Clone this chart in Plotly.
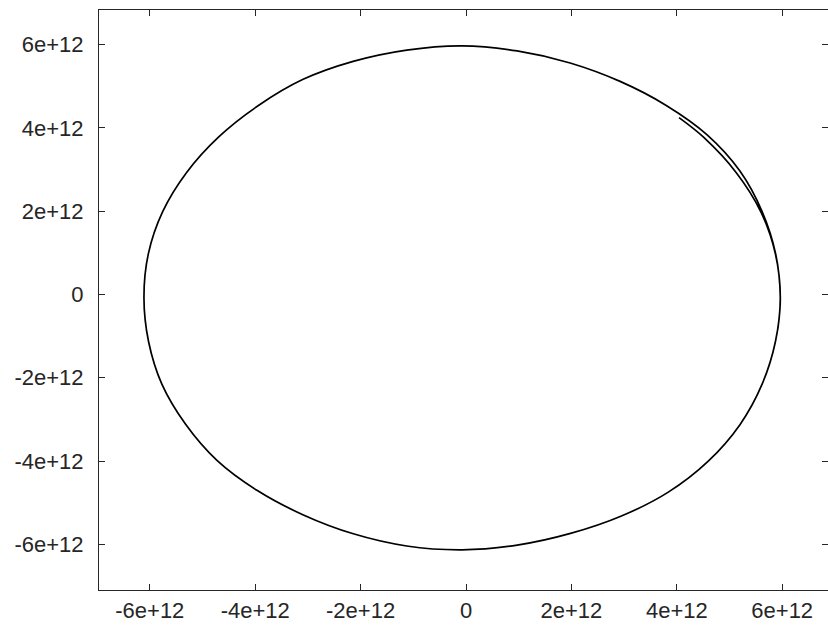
import plotly.graph_objects as go

# Orbit trajectory, in units of 1e12 (x, y), traced clockwise from the start point
# (first pass starts slightly inside, the second pass overlaps the upper-right arc)
x_orbit = [
    4.042, 4.512, 5.129, 5.595, 5.872, 5.964, 5.872, 5.619, 5.198, 4.597,
    3.839, 2.949, 1.983, 0.971, -0.076, -1.126, -2.138, -3.086, -3.959, -4.726,
    -5.324, -5.771, -6.024, -6.111, -6.029, -5.756, -5.298, -4.687, -3.946, -3.101,
    -2.142, -1.125, -0.076, 0.969, 1.976, 2.924, 3.800, 4.581, 5.198, 5.619,
    5.877, 5.964, 5.919,
]
y_orbit = [
    4.245, 3.770, 2.925, 1.984, 0.969, -0.080, -1.129, -2.153, -3.125, -4.001,
    -4.745, -5.319, -5.737, -6.018, -6.130, -6.038, -5.746, -5.293, -4.707, -3.982,
    -3.110, -2.153, -1.129, -0.080, 0.969, 1.987, 2.935, 3.790, 4.531, 5.159,
    5.596, 5.868, 5.970, 5.848, 5.558, 5.116, 4.539, 3.828, 2.965, 1.993,
    0.969, -0.080, -0.816,
]
scale = 1e12

tick_vals = [-6, -4, -2, 0, 2, 4, 6]
tick_text = ["-6e+12", "-4e+12", "-2e+12", "0", "2e+12", "4e+12", "6e+12"]

axis_color = "#262626"

fig = go.Figure(
    go.Scatter(
        x=[v * scale for v in x_orbit],
        y=[v * scale for v in y_orbit],
        mode="lines",
        line=dict(color="black", width=1.7, shape="spline", smoothing=1.0),
        hoverinfo="skip",
    )
)

common_axis = dict(
    showgrid=False,
    zeroline=False,
    showline=True,
    linecolor=axis_color,
    linewidth=1,
    ticks="inside",
    ticklen=6,
    tickwidth=1,
    tickcolor=axis_color,
    tickfont=dict(family="Liberation Sans, Arial, sans-serif", size=22, color=axis_color),
)

fig.update_xaxes(
    range=[-6.964e12, 6.869e12],
    tickvals=[v * scale for v in tick_vals],
    ticktext=tick_text,
    mirror="allticks",
    ticklabelstandoff=1,
    **common_axis,
)
fig.update_yaxes(
    range=[-7.095e12, 6.83e12],
    tickvals=[v * scale for v in tick_vals],
    ticktext=tick_text,
    mirror="ticks",
    ticklabelstandoff=10,
    **common_axis,
)

fig.update_layout(
    width=828,
    height=634,
    margin=dict(l=99, r=0, t=10, b=44),
    paper_bgcolor="white",
    plot_bgcolor="white",
    showlegend=False,
)

fig.write_html("out.html")
